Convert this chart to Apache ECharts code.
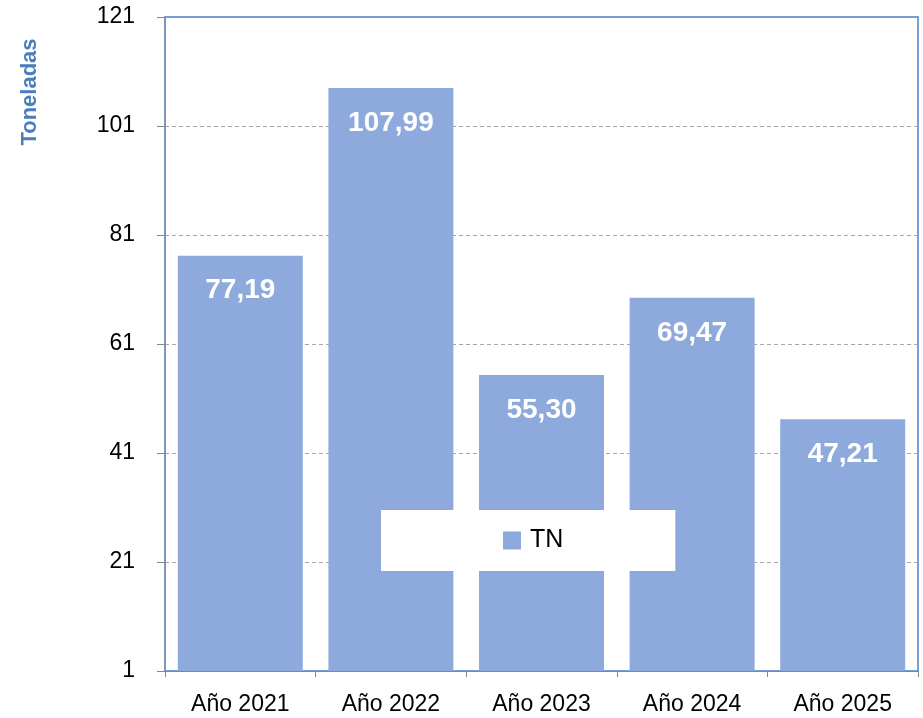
<!DOCTYPE html>
<html>
<head>
<meta charset="utf-8">
<script src="https://cdn.jsdelivr.net/npm/echarts@6/dist/echarts.min.js"></script>
<style>html,body{margin:0;padding:0;background:#fff}#c{width:923px;height:718px}</style>
</head>
<body>
<div id="c"></div>
<script>
var categories = ['Año 2021', 'Año 2022', 'Año 2023', 'Año 2024', 'Año 2025'];
var tnValues = [77.19, 107.99, 55.30, 69.47, 47.21];
var yTicks = [1, 21, 41, 61, 81, 101, 121];
var seriesName = 'TN';
var yAxisTitle = 'Toneladas';

var FONT = 'Liberation Sans';
var chart = echarts.init(document.getElementById('c'), null, {renderer: 'canvas'});
chart.setOption({
  animation: false,
  backgroundColor: '#ffffff',
  textStyle: {fontFamily: FONT},
  grid: {left: 165, right: 5, top: 17, bottom: 47, show: true, borderColor: '#4F7FC8', borderWidth: 1.5, backgroundColor: 'transparent'},
  legend: {
    data: [seriesName],
    left: 381, top: 510,
    backgroundColor: '#ffffff',
    padding: [18, 112, 18, 122],
    itemWidth: 18, itemHeight: 18, itemGap: 0,
    icon: 'rect',
    textStyle: {fontFamily: FONT, fontSize: 25, color: '#000', padding: [0, 0, 0, 4]}
  },
  graphic: [{
    type: 'text',
    x: 30, y: 92, rotation: Math.PI / 2,
    style: {text: yAxisTitle, fill: '#4A7EBB', fontSize: 22, fontWeight: 'bold', fontFamily: FONT, align: 'center', verticalAlign: 'middle'}
  }],
  xAxis: {
    type: 'category',
    data: categories,
    axisLine: {lineStyle: {color: '#878787', width: 1}},
    axisTick: {show: true, alignWithLabel: false, length: 6, lineStyle: {color: '#878787'}},
    axisLabel: {fontFamily: FONT, fontSize: 23, color: '#000', margin: 22}
  },
  yAxis: {
    type: 'value',
    min: 1, max: 121,
    axisLine: {show: true, lineStyle: {color: '#8093B3', width: 1.5}},
    axisTick: {show: true, inside: false, length: 8, customValues: yTicks, lineStyle: {color: '#878787'}},
    axisLabel: {fontFamily: FONT, fontSize: 23, color: '#000', margin: 30, customValues: yTicks},
    splitLine: {show: true, showMinLine: false, showMaxLine: false, lineStyle: {color: '#A6A6A6', type: [4, 3], width: 1}}
  },
  series: [{
    name: seriesName,
    type: 'bar',
    data: tnValues,
    barCategoryGap: '17%',
    itemStyle: {color: '#8EAADC'},
    label: {
      show: true, position: 'insideTop', distance: 21,
      color: '#fff', fontWeight: 'bold', fontSize: 28, fontFamily: FONT,
      formatter: function (p) { return p.value.toFixed(2).replace('.', ','); }
    }
  }]
});
</script>
</body>
</html>
